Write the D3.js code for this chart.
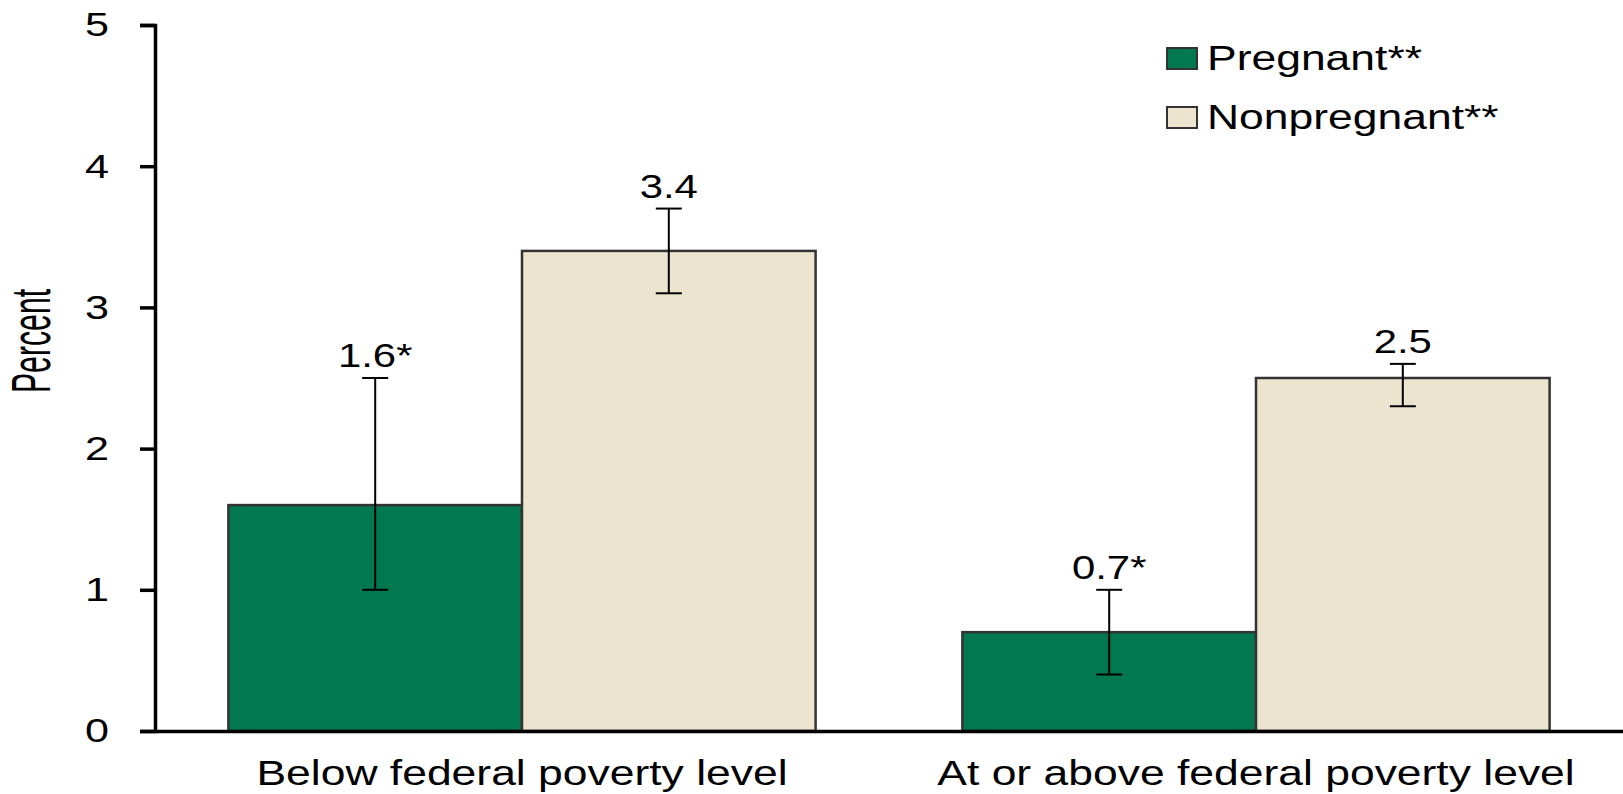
<!DOCTYPE html>
<html>
<head>
<meta charset="utf-8">
<script src="https://cdn.jsdelivr.net/npm/d3@7"></script>
<style>
  body { margin: 0; background: #fff; }
  text { font-family: "Liberation Sans", Arial, Helvetica, sans-serif; fill: #000; }
</style>
</head>
<body>
<div id="chart"></div>
<script>
// Data
const groups = ["Below federal poverty level", "At or above federal poverty level"];
const seriesNames = ["Pregnant**", "Nonpregnant**"];
const pregnant = [1.6, 0.7];
const nonpregnant = [3.4, 2.5];
const pregnantLow = [1.0, 0.4];
const pregnantHigh = [2.5, 1.0];
const nonpregnantLow = [3.1, 2.3];
const nonpregnantHigh = [3.7, 2.6];
const pregnantLabels = ["1.6*", "0.7*"];
const nonpregnantLabels = ["3.4", "2.5"];
const yTicks = [0, 1, 2, 3, 4, 5];

const colors = ["#027851", "#ede4cf"];
const stretch = 1.27; // text in the original is drawn a little wide

const width = 1623;
const height = 794;
const margin = {top: 25, right: 0, bottom: 63, left: 155};

// flatten into rows for drawing
const rows = [];
groups.forEach((g, i) => {
    rows.push({group: g, key: seriesNames[0], value: pregnant[i], lo: pregnantLow[i], hi: pregnantHigh[i], label: pregnantLabels[i]});
    rows.push({group: g, key: seriesNames[1], value: nonpregnant[i], lo: nonpregnantLow[i], hi: nonpregnantHigh[i], label: nonpregnantLabels[i]});
});

const svg = d3.select("#chart")
    .append("svg")
    .attr("width", width)
    .attr("height", height);

const x0 = d3.scaleBand()
    .domain(groups)
    .range([margin.left, width - margin.right])
    .paddingInner(0.2)
    .paddingOuter(0.1);

const x1 = d3.scaleBand()
    .domain(seriesNames)
    .range([0, x0.bandwidth()]);

const y = d3.scaleLinear()
    .domain([0, 5])
    .range([height - margin.bottom, margin.top]);

const color = d3.scaleOrdinal().domain(seriesNames).range(colors);

// Bars
svg.append("g")
    .selectAll("rect")
    .data(rows)
    .join("rect")
    .attr("x", d => x0(d.group) + x1(d.key))
    .attr("y", d => y(d.value))
    .attr("width", x1.bandwidth())
    .attr("height", d => y(0) - y(d.value))
    .attr("fill", d => color(d.key))
    .attr("stroke", "#333")
    .attr("stroke-width", 2.5);

// Error bars
const cx = d => x0(d.group) + x1(d.key) + x1.bandwidth() / 2;
const capHalf = 13;
const err = svg.append("g")
    .attr("stroke", "#000")
    .attr("stroke-width", 2);

err.selectAll("line.stem")
    .data(rows)
    .join("line")
    .attr("class", "stem")
    .attr("x1", cx).attr("x2", cx)
    .attr("y1", d => y(d.lo)).attr("y2", d => y(d.hi));

err.selectAll("line.caphi")
    .data(rows)
    .join("line")
    .attr("class", "caphi")
    .attr("x1", d => cx(d) - capHalf).attr("x2", d => cx(d) + capHalf)
    .attr("y1", d => y(d.hi)).attr("y2", d => y(d.hi));

err.selectAll("line.caplo")
    .data(rows)
    .join("line")
    .attr("class", "caplo")
    .attr("x1", d => cx(d) - capHalf).attr("x2", d => cx(d) + capHalf)
    .attr("y1", d => y(d.lo)).attr("y2", d => y(d.lo));

// Value labels
svg.append("g")
    .selectAll("text")
    .data(rows)
    .join("text")
    .attr("transform", d => `translate(${cx(d)},${y(d.hi) - 11}) scale(${stretch},1)`)
    .attr("text-anchor", "middle")
    .style("font-size", "33px")
    .text(d => d.label);

// Y axis
const yAxis = svg.append("g")
    .attr("transform", `translate(${margin.left},0)`)
    .call(d3.axisLeft(y).tickValues(yTicks).tickSize(15).tickSizeOuter(15).tickFormat(d3.format("d")));

yAxis.selectAll("path, line").attr("stroke", "#000").attr("stroke-width", 3.5);
yAxis.selectAll("text")
    .attr("x", null)
    .attr("transform", `translate(-46,0) scale(${stretch},1)`)
    .style("font-size", "34px")
    .attr("fill", "#000");

// X axis
const xAxis = svg.append("g")
    .attr("transform", `translate(0,${y(0)})`)
    .call(d3.axisBottom(x0).tickSize(0).tickSizeOuter(0));

xAxis.select("path").attr("stroke", "#000").attr("stroke-width", 3.5);
xAxis.selectAll("text")
    .attr("y", null)
    .attr("dy", null)
    .attr("transform", `translate(0,54) scale(${stretch},1)`)
    .style("font-size", "35px")
    .attr("fill", "#000");

// Y axis label (condensed)
svg.append("text")
    .attr("transform", "translate(50,341) rotate(-90) scale(0.72,1.33)")
    .attr("text-anchor", "middle")
    .style("font-size", "42px")
    .text("Percent");

// Legend
const legend = svg.append("g");
seriesNames.forEach((name, i) => {
    const ly = 48 + i * 59;
    legend.append("rect")
        .attr("x", 1167)
        .attr("y", ly)
        .attr("width", 30)
        .attr("height", 21)
        .attr("fill", colors[i])
        .attr("stroke", "#333")
        .attr("stroke-width", 2);
    legend.append("text")
        .attr("transform", `translate(1207,${ly + 22}) scale(${stretch},1)`)
        .style("font-size", "35px")
        .text(name);
});
</script>
</body>
</html>
